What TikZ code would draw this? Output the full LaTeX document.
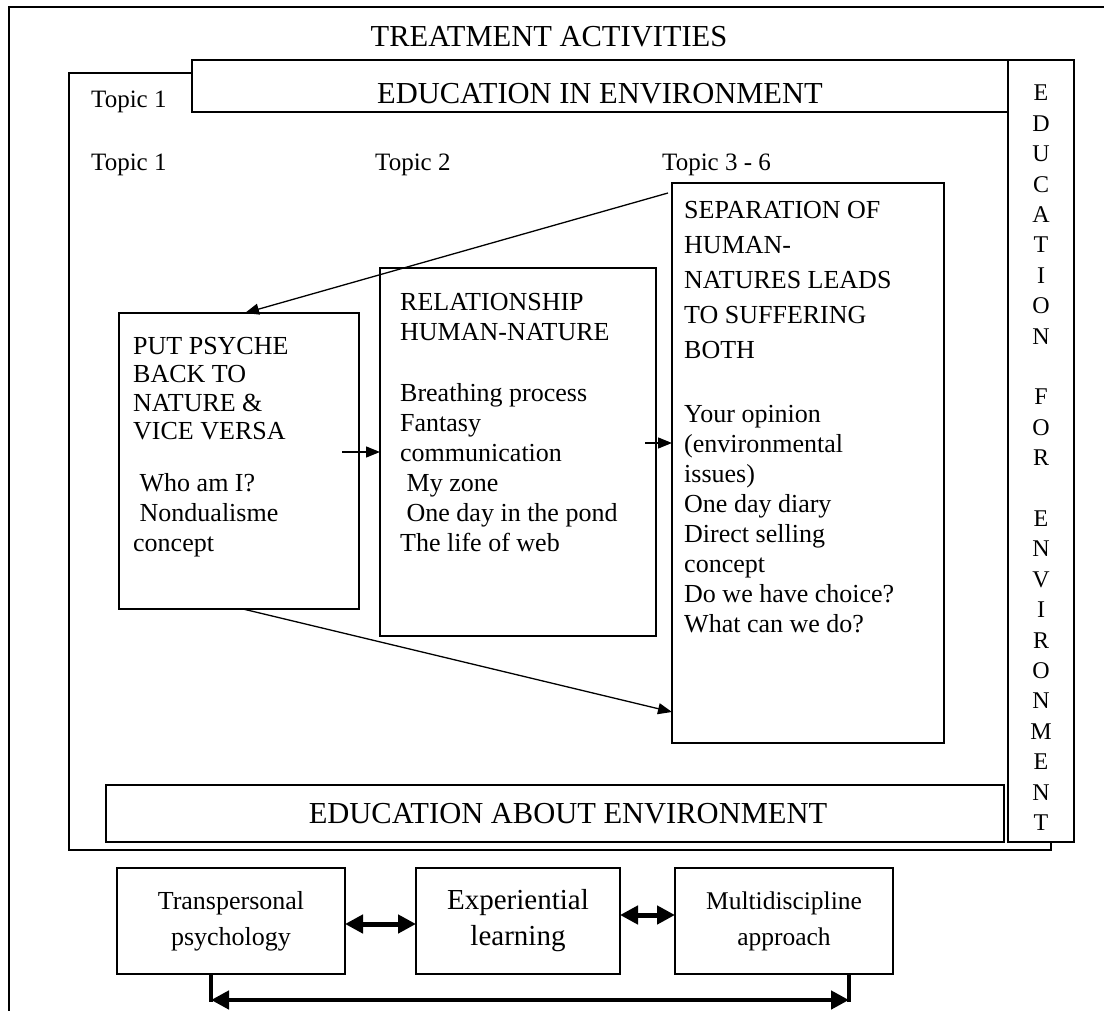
\documentclass[tikz,border=0pt]{standalone}
\usepackage{fontspec}
\setmainfont{Liberation Serif}
\usetikzlibrary{arrows.meta,calc}
\begin{document}
\begin{tikzpicture}[x=1pt,y=-1pt,
  frame/.style={draw,line width=1.3pt,fill=white,inner sep=0pt,outer sep=0pt,anchor=north west},
  bodytxt/.style={font=\fontsize{26}{30}\selectfont,align=left,inner sep=0pt,anchor=north west},
  captxt/.style={font=\fontsize{26}{35}\selectfont,align=left,inner sep=0pt,anchor=north west},
  topictxt/.style={font=\fontsize{25}{30}\selectfont,inner sep=0pt,anchor=north west},
  headtxt/.style={font=\fontsize{30.5}{36}\selectfont,inner sep=0pt},
  thin/.style={line width=1.3pt,-{Triangle[length=14pt,width=11pt]}},
  fat/.style={line width=5pt,{Triangle[length=18pt,width=18pt]}-{Triangle[length=18pt,width=18pt]}},
  fatline/.style={line width=4.5pt},
  bbox/.style={draw,line width=1.3pt,fill=white,inner sep=0pt,outer sep=0pt,align=center,minimum height=106pt}
]
\useasboundingbox (0,0) rectangle (1104,1011);
% outer frame (cut by the picture's edges)
\draw[line width=1.3pt] (1104,7) -- (9,7) -- (9,1011);
\node[headtxt] (title) at (549,37) {TREATMENT ACTIVITIES};

% inner frame and bands
\node[frame,minimum width=982pt,minimum height=777pt] (inner) at (69,73) {};
\node[frame,minimum width=816pt,minimum height=52pt] (eie) at (192,60) {};
\node[headtxt] (eieT) at (600,94) {EDUCATION IN ENVIRONMENT};
\node[frame,minimum width=898pt,minimum height=57pt] (eae) at (106,785) {};
\node[headtxt] (eaeT) at (568,814) {EDUCATION ABOUT ENVIRONMENT};
\node[frame,minimum width=66pt,minimum height=782pt] (efe) at (1008,60) {};
\node[font=\fontsize{24}{30.4}\selectfont,align=center,inner sep=0pt,anchor=north] (efeT) at (1041,85)
  {E\\D\\U\\C\\A\\T\\I\\O\\N\\ \\F\\O\\R\\ \\E\\N\\V\\I\\R\\O\\N\\M\\E\\N\\T};

% topics
\node[topictxt] (tp0) at (91,91) {Topic 1};
\node[topictxt] (tp1) at (91,154) {Topic 1};
\node[topictxt] (tp2) at (375,154) {Topic 2};
\node[topictxt] (tp3) at (662,154) {Topic 3 - 6};

% topic boxes
\node[frame,minimum width=240pt,minimum height=296pt] (A) at (119,313) {};
\node[captxt,font=\fontsize{26}{28.5}\selectfont] (A1) at (133,337) {PUT PSYCHE\\BACK TO\\NATURE \&\\VICE VERSA};
\node[bodytxt] (A2) at (133,473) {\hspace{0.25em}Who am I?\\\hspace{0.25em}Nondualisme\\concept};

\node[frame,minimum width=276pt,minimum height=368pt] (B) at (380,268) {};
\node[bodytxt] (B1) at (400,293) {RELATIONSHIP\\HUMAN-NATURE};
\node[bodytxt] (B2) at (400,383) {Breathing process\\Fantasy\\communication\\\hspace{0.25em}My zone\\\hspace{0.25em}One day in the pond\\The life of web};

\node[frame,minimum width=272pt,minimum height=560pt] (C) at (672,183) {};
\node[captxt] (C1) at (684,201) {SEPARATION OF\\HUMAN-\\NATURES LEADS\\TO SUFFERING\\BOTH};
\node[bodytxt] (C2) at (684,405) {Your opinion\\(environmental\\issues)\\One day diary\\Direct selling\\concept\\Do we have choice?\\What can we do?};

% connectors between topic boxes
\draw[thin] ($(C.north west)+(-4,10)$) -- ($(A.north)+(6,0)$);
\draw[thin] ($(A.south)+(4,0)$) -- ($(C.north west)+(0,529)$);
\draw[thin] ($(A.north east)+(-17,139)$) -- ($(B.north west)+(0,184)$);
\draw[thin] ($(B.north east)+(-11,175)$) -- ($(C.north west)+(0,260)$);

% bottom approaches
\node[bbox,minimum width=228pt,font=\fontsize{26}{36}\selectfont] (T) at (231,921) {Transpersonal\\psychology};
\node[bbox,minimum width=204pt,font=\fontsize{29}{36}\selectfont] (E) at (518,921) {Experiential\\learning};
\node[bbox,minimum width=218pt,font=\fontsize{25.5}{36}\selectfont] (M) at (784,921) {Multidiscipline\\approach};
\draw[fat] ([yshift=-3pt]T.east) -- ([yshift=-3pt]E.west);
\draw[fat] ([yshift=6pt]E.east) -- ([yshift=6pt]M.west);
\coordinate (bl) at (211,1000);
\coordinate (br) at (849,1000);
\draw[fatline] (T.south -| bl) -- ([yshift=-2pt]bl);
\draw[fatline] (M.south -| br) -- ([yshift=-2pt]br);
\draw[fat,line width=4.5pt] (bl) -- (br);
\end{tikzpicture}
\end{document}
